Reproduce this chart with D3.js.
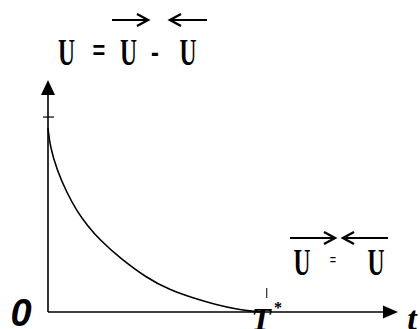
<!DOCTYPE html>
<html>
<head>
<meta charset="utf-8">
<script src="https://cdn.jsdelivr.net/npm/d3@7"></script>
</head>
<body style="margin:0">
<div id="graph"></div>
<script>
// curve: t (T* = 1) and U (tick = 1)
var curveT = [0, 0.009, 0.041, 0.087, 0.132, 0.178, 0.237, 0.329, 0.452, 0.557, 0.662, 0.772, 0.863, 0.922, 0.977];
var curveU = [0.944, 0.851, 0.728, 0.610, 0.518, 0.446, 0.369, 0.277, 0.174, 0.113, 0.072, 0.036, 0.015, 0.005, 0];
var tStar = 1;
var uTick = 1;
var tMax = 1.6;
var uMax = 1.19;

var width = 420, height = 329;
var margin = { top: 80, right: 22, bottom: 17, left: 48 };
var serif = '"Liberation Serif"';
var sans = '"Liberation Sans"';

var svg = d3.select('#graph').append('svg')
    .attr('width', width)
    .attr('height', height)
    .style('display', 'block')
    .style('background', '#ffffff');

var x = d3.scaleLinear()
    .domain([0, tMax])
    .range([margin.left, width - margin.right]);

var y = d3.scaleLinear()
    .domain([0, uMax])
    .range([height - margin.bottom, margin.top]);

var ink = '#000';

// axes
svg.append('line')
    .attr('x1', x(0)).attr('y1', y(0))
    .attr('x2', x(0)).attr('y2', y(uMax) + 12)
    .style('stroke', ink).style('stroke-width', 1.6);
svg.append('line')
    .attr('x1', x(0)).attr('y1', y(0))
    .attr('x2', x(tMax) - 12).attr('y2', y(0))
    .style('stroke', ink).style('stroke-width', 1.6);

// arrow heads
svg.append('path')
    .attr('d', 'M' + x(0) + ',' + y(uMax) + 'L' + (x(0) - 7) + ',' + (y(uMax) + 15) + 'L' + (x(0) + 7) + ',' + (y(uMax) + 15) + 'Z')
    .style('fill', ink);
svg.append('path')
    .attr('d', 'M' + x(tMax) + ',' + y(0) + 'L' + (x(tMax) - 15) + ',' + (y(0) - 6.5) + 'L' + (x(tMax) - 15) + ',' + (y(0) + 6.5) + 'Z')
    .style('fill', ink);

// ticks
svg.append('line')
    .attr('x1', x(0) - 5).attr('x2', x(0) + 6)
    .attr('y1', y(uTick)).attr('y2', y(uTick))
    .style('stroke', ink).style('stroke-width', 1.2);
svg.append('line')
    .attr('x1', x(tStar)).attr('x2', x(tStar))
    .attr('y1', y(0) - 24).attr('y2', y(0) - 14)
    .style('stroke', ink).style('stroke-width', 1);

// the curve
var pts = curveT.map(function(t, i) { return [t, curveU[i]]; });
var line = d3.line()
    .x(function(d) { return x(d[0]); })
    .y(function(d) { return y(d[1]); })
    .curve(d3.curveBasis);
svg.append('path')
    .datum(pts)
    .attr('d', line)
    .style('fill', 'none')
    .style('stroke', ink)
    .style('stroke-width', 1.6);

// axis labels
svg.append('text')
    .attr('x', 21).attr('y', 326)
    .attr('text-anchor', 'middle')
    .style('font-family', sans)
    .style('font-style', 'italic')
    .style('font-weight', 'bold')
    .style('font-size', '38px')
    .text('0');
svg.append('text')
    .attr('x', 261).attr('y', 330)
    .attr('text-anchor', 'middle')
    .style('font-family', serif)
    .style('font-style', 'italic')
    .style('font-weight', 'bold')
    .style('font-size', '32px')
    .text('T');
svg.append('text')
    .attr('x', 278).attr('y', 313)
    .attr('text-anchor', 'middle')
    .style('font-family', serif)
    .style('font-weight', 'bold')
    .style('font-size', '16px')
    .text('*');
svg.append('text')
    .attr('x', 412).attr('y', 330)
    .attr('text-anchor', 'middle')
    .style('font-family', serif)
    .style('font-style', 'italic')
    .style('font-weight', 'bold')
    .style('font-size', '34px')
    .text('t');

// stretched serif glyphs
function glyph(cx, base, txt, size) {
    svg.append('g')
        .attr('transform', 'translate(' + cx + ',' + base + ') scale(0.62,1)')
      .append('text')
        .attr('text-anchor', 'middle')
        .style('font-family', serif)
        .style('font-weight', 'bold')
        .style('font-size', size + 'px')
        .text(txt);
}

function vecArrow(x1, x2, yy) {
    var dir = x2 > x1 ? 1 : -1;
    svg.append('line')
        .attr('x1', x1).attr('x2', x2 - dir * 2)
        .attr('y1', yy).attr('y2', yy)
        .style('stroke', ink).style('stroke-width', 2.2);
    svg.append('path')
        .attr('d', 'M' + (x2 - dir * 11) + ',' + (yy - 6) + 'L' + x2 + ',' + yy + 'L' + (x2 - dir * 11) + ',' + (yy + 6))
        .style('fill', 'none')
        .style('stroke', ink)
        .style('stroke-width', 2.4);
}

// U = U - U
glyph(66.5, 65, 'U', 38);
glyph(99, 63, '=', 38);
glyph(128.5, 65, 'U', 38);
glyph(155, 63, '-', 38);
glyph(188, 65, 'U', 38);
vecArrow(112, 148, 20);
vecArrow(207, 170, 20);

// U = U
glyph(302, 275, 'U', 38);
glyph(333, 266, '=', 18);
glyph(376, 275, 'U', 38);
vecArrow(290, 335, 238);
vecArrow(388, 343, 238);
</script>
</body>
</html>
